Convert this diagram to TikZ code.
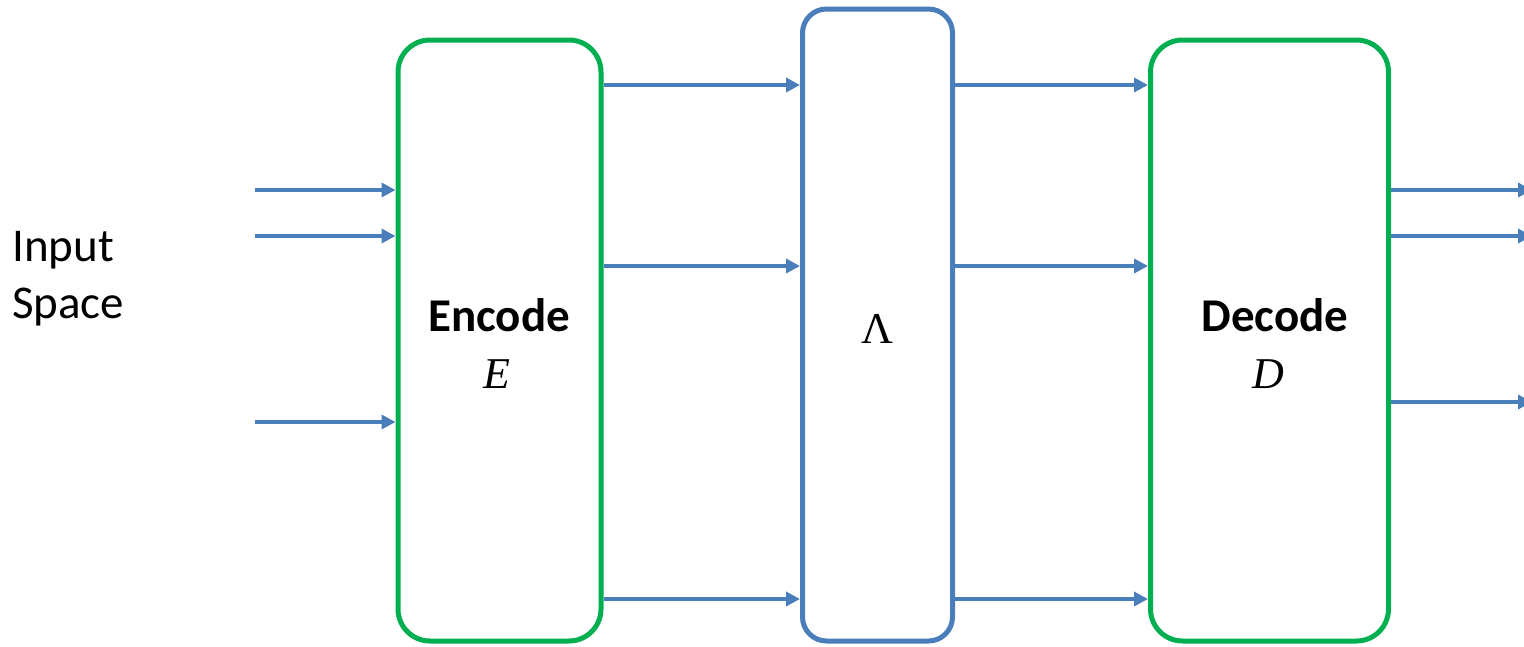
\documentclass[tikz,border=0pt]{standalone}
\usepackage{fontspec}
\setmainfont{Carlito}
\newfontfamily\symserif{Liberation Serif}
\usetikzlibrary{arrows.meta}
\definecolor{flowblue}{HTML}{4A7EBB}
\definecolor{codegreen}{HTML}{00B050}
\tikzset{
  stage/.style={draw=codegreen, line width=5pt, rounded corners=32pt, inner sep=0pt},
  latent/.style={draw=flowblue, line width=5pt, rounded corners=24pt, inner sep=0pt},
  flow/.style={draw=flowblue, line width=3.6pt, -{Triangle[length=14pt,width=14pt]}},
  txt/.style={font=\fontsize{47}{56}\selectfont, inner sep=0pt, anchor=base},
  bold/.style={txt, font=\fontsize{47}{56}\selectfont\bfseries},
  sym/.style={txt, font=\fontsize{44}{52}\selectfont\symserif},
}
\begin{document}
\begin{tikzpicture}[x=1pt,y=-1pt]
\useasboundingbox (0,0) rectangle (1524,646);

% blocks
\node[stage, minimum width=203pt, minimum height=601pt] (enc) at (499.5,340.5) {};
\node[latent, minimum width=150pt, minimum height=632pt] (lam) at (877.5,325) {};
\node[stage, minimum width=238pt, minimum height=601pt] (dec) at (1269.5,340.5) {};

% labels
\node[bold] (enct) at (499,331) {Encode};
\node[sym] (ence) at (497,388) {\itshape E};
\node[sym] (lamt) at (877,343) {Λ};
\node[bold] (dect) at (1275,331) {Decode};
\node[sym] (decd) at (1268,388) {\itshape D};
\node[txt, anchor=base west] (in1) at (12,261) {Input};
\node[txt, anchor=base west] (in2) at (12,318) {Space};

% free ends of the input and output arrows
\coordinate (a1) at (255,190);
\coordinate (a2) at (255,236);
\coordinate (a3) at (255,422);
\coordinate (b1) at (1532,190);
\coordinate (b2) at (1532,236);
\coordinate (b3) at (1532,402);
\coordinate (m1) at (0,85);
\coordinate (m2) at (0,266);
\coordinate (m3) at (0,599);

% inputs
\foreach \c in {a1,a2,a3}
  \draw[flow] (\c) -- (\c -| enc.west);
% encoder to latent
\foreach \c in {m1,m2,m3}
  \draw[flow] (\c -| enc.east) -- (\c -| lam.west);
% latent to decoder
\foreach \c in {m1,m2,m3}
  \draw[flow] (\c -| lam.east) -- (\c -| dec.west);
% outputs
\foreach \c in {b1,b2,b3}
  \draw[flow] (\c -| dec.east) -- (\c);
\end{tikzpicture}
\end{document}
